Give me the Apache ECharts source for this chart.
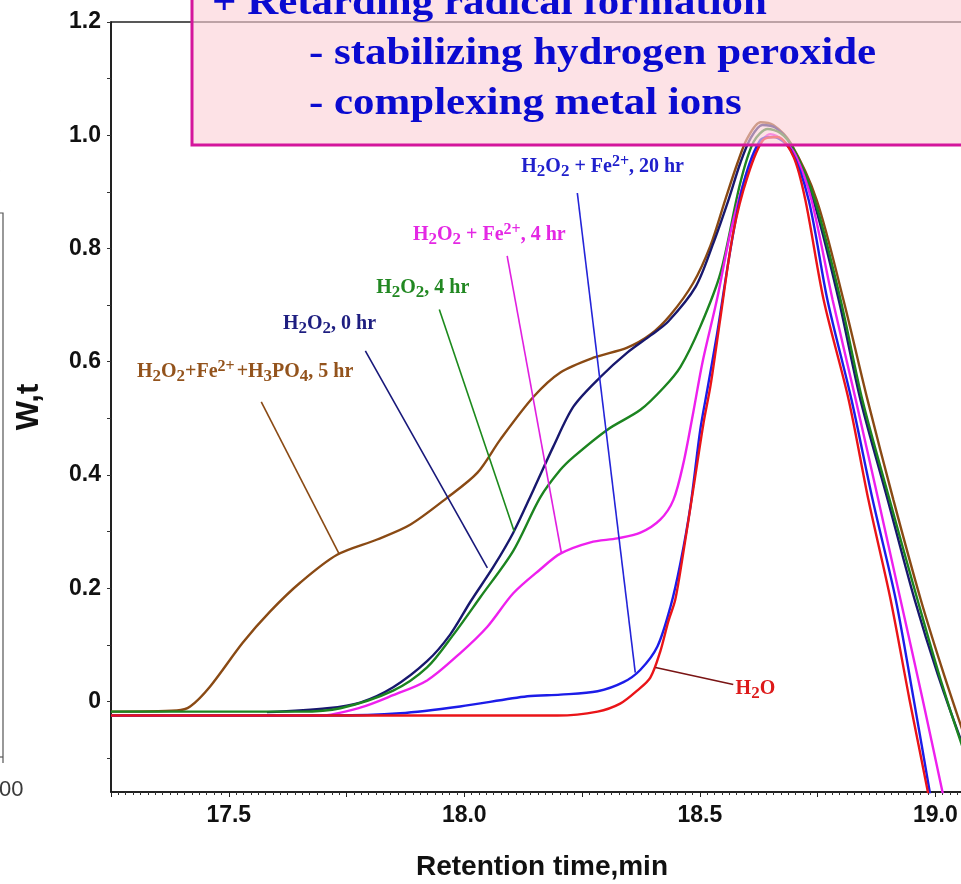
<!DOCTYPE html>
<html>
<head>
<meta charset="utf-8">
<script src="https://cdn.jsdelivr.net/npm/echarts@6/dist/echarts.min.js"></script>
<style>
  html, body { margin: 0; padding: 0; background: #ffffff; }
  #chart { width: 961px; height: 884px; }
</style>
</head>
<body>
<div id="chart"></div>
<script>
// GPC traces: normalized detector response W,t against retention time (min)
const xTicksLabelled = [17.5, 18.0, 18.5, 19.0];
const yTicksLabelled = [0, 0.2, 0.4, 0.6, 0.8, 1.0, 1.2];
const yTicksMinor = [-0.1, 0, 0.1, 0.2, 0.3, 0.4, 0.5, 0.6, 0.7, 0.8, 0.9, 1.0, 1.1, 1.2];

// H2O2 + Fe2+ + H3PO4, 5 hr
const phosphateCurve = [
  [17.25, -0.018], [17.390, -0.016], [17.418, -0.009], [17.460, 0.026], [17.530, 0.104],
  [17.588, 0.159], [17.652, 0.210], [17.730, 0.259], [17.815, 0.286], [17.885, 0.312],
  [17.964, 0.360], [18.028, 0.404], [18.076, 0.462], [18.147, 0.538], [18.204, 0.581],
  [18.274, 0.607], [18.346, 0.625], [18.395, 0.648], [18.438, 0.683], [18.486, 0.739],
  [18.523, 0.806], [18.554, 0.886], [18.580, 0.951], [18.601, 0.995], [18.629, 1.023],
  [18.656, 1.018], [18.693, 0.986], [18.748, 0.886], [18.805, 0.709], [18.856, 0.533],
  [18.911, 0.356], [18.969, 0.180], [19.015, 0.056], [19.064, -0.067], [19.09, -0.13]
];

// H2O2, 0 hr
const peroxide0Curve = [
  [17.581, -0.019], [17.709, -0.012], [17.779, -0.002], [17.849, 0.025], [17.921, 0.071],
  [17.970, 0.118], [18.013, 0.176], [18.062, 0.238], [18.104, 0.298], [18.147, 0.374],
  [18.189, 0.450], [18.232, 0.521], [18.289, 0.573], [18.346, 0.616], [18.395, 0.646],
  [18.433, 0.671], [18.491, 0.732], [18.529, 0.810], [18.561, 0.886], [18.586, 0.951],
  [18.608, 0.995], [18.633, 1.018], [18.661, 1.013], [18.693, 0.983], [18.741, 0.886],
  [18.795, 0.709], [18.841, 0.533], [18.899, 0.356], [18.956, 0.180], [19.005, 0.048],
  [19.058, -0.076], [19.09, -0.14]
];

// H2O2, 4 hr
const peroxide4Curve = [
  [17.25, -0.018], [17.652, -0.018], [17.737, -0.012], [17.849, 0.019], [17.921, 0.060],
  [17.977, 0.118], [18.034, 0.184], [18.104, 0.266], [18.161, 0.360], [18.204, 0.409],
  [18.232, 0.432], [18.304, 0.480], [18.374, 0.515], [18.423, 0.554], [18.459, 0.591],
  [18.501, 0.662], [18.544, 0.757], [18.586, 0.916], [18.614, 0.988], [18.644, 1.011],
  [18.671, 1.004], [18.697, 0.979], [18.744, 0.886], [18.799, 0.709], [18.845, 0.533],
  [18.903, 0.356], [18.962, 0.180], [19.011, 0.039], [19.058, -0.081], [19.09, -0.15]
];

// H2O2 + Fe2+, 4 hr
const iron4Curve = [
  [17.25, -0.025], [17.694, -0.025], [17.779, -0.011], [17.849, 0.011], [17.921, 0.037],
  [17.991, 0.085], [18.049, 0.132], [18.104, 0.191], [18.161, 0.233], [18.204, 0.261],
  [18.268, 0.281], [18.325, 0.288], [18.374, 0.298], [18.416, 0.321], [18.444, 0.356],
  [18.465, 0.420], [18.486, 0.510], [18.506, 0.600], [18.537, 0.712], [18.565, 0.828],
  [18.593, 0.916], [18.622, 0.979], [18.650, 1.002], [18.678, 0.990], [18.703, 0.965],
  [18.737, 0.886], [18.782, 0.709], [18.831, 0.533], [18.879, 0.356], [18.926, 0.180],
  [18.973, 0.004], [19.015, -0.159], [19.026, -0.199]
];

// H2O2 + Fe2+, 20 hr
const iron20Curve = [
  [17.25, -0.025], [17.722, -0.025], [17.864, -0.021], [17.991, -0.009], [18.134, 0.009],
  [18.204, 0.012], [18.283, 0.018], [18.338, 0.034], [18.374, 0.056], [18.410, 0.097],
  [18.438, 0.168], [18.459, 0.245], [18.480, 0.344], [18.501, 0.480], [18.516, 0.551],
  [18.537, 0.651], [18.565, 0.798], [18.593, 0.916], [18.629, 0.992], [18.656, 0.997],
  [18.693, 0.974], [18.731, 0.886], [18.771, 0.709], [18.822, 0.533], [18.867, 0.356],
  [18.916, 0.180], [18.954, 0.004], [18.988, -0.159], [18.996, -0.199]
];

// H2O reference
const waterCurve = [
  [17.25, -0.025], [18.198, -0.025], [18.283, -0.018], [18.331, -0.004], [18.367, 0.019],
  [18.395, 0.042], [18.416, 0.088], [18.433, 0.141], [18.448, 0.180], [18.465, 0.263],
  [18.486, 0.374], [18.508, 0.492], [18.523, 0.559], [18.544, 0.679], [18.571, 0.828],
  [18.601, 0.926], [18.635, 0.992], [18.665, 0.997], [18.699, 0.962], [18.724, 0.886],
  [18.763, 0.709], [18.816, 0.533], [18.858, 0.356], [18.905, 0.180], [18.945, 0.004],
  [18.984, -0.159], [18.992, -0.199]
];

// Callout text, its anchor (left edge, vertical centre) and leader line, in data units
const curveNotes = [
  { text: 'H{sb|2}O{sb|2}+Fe{sp|2+}{gap| }+H{sb|3}PO{sb|4}, 5 hr', at: [17.305, 0.582], leader: [[17.569, 0.529], [17.734, 0.261]] },
  { text: 'H{sb|2}O{sb|2}, 0 hr', at: [17.615, 0.667], leader: [[17.790, 0.619], [18.049, 0.236]] },
  { text: 'H{sb|2}O{sb|2}, 4 hr', at: [17.813, 0.731], leader: [[17.947, 0.692], [18.106, 0.300]] },
  { text: 'H{sb|2}O{sb|2} + Fe{sp|2+}, 4 hr', at: [17.891, 0.824], leader: [[18.091, 0.787], [18.206, 0.263]] },
  { text: 'H{sb|2}O{sb|2} + Fe{sp|2+}, 20 hr', at: [18.121, 0.944], leader: [[18.240, 0.898], [18.363, 0.051]] },
  { text: 'H{sb|2}O', at: [18.576, 0.023], leader: [[18.406, 0.060], [18.571, 0.030]] }
];

const curves = [
  { name: 'H2O2+Fe2++H3PO4, 5 hr', data: phosphateCurve, color: '#8a4a14', ink: '#93531c', leaderInk: '#8a4a14' },
  { name: 'H2O2, 0 hr', data: peroxide0Curve, color: '#18186e', ink: '#1e1e80', leaderInk: '#18187a' },
  { name: 'H2O2, 4 hr', data: peroxide4Curve, color: '#1c8420', ink: '#228822', leaderInk: '#1c8a1c' },
  { name: 'H2O2 + Fe2+, 4 hr', data: iron4Curve, color: '#ee20ee', ink: '#e428e4', leaderInk: '#e020e0' },
  { name: 'H2O2 + Fe2+, 20 hr', data: iron20Curve, color: '#1c1ce8', ink: '#2020cc', leaderInk: '#2424d8' },
  { name: 'H2O', data: waterCurve, color: '#ea1418', ink: '#dd1a1a', leaderInk: '#7a1414' }
];

const serif = "'Liberation Serif', 'Times New Roman', 'DejaVu Serif', serif";
const sans = "'Liberation Sans', Arial, 'DejaVu Sans', sans-serif";

function noteRich(color) {
  return {
    sb: { fontFamily: serif, fontWeight: 'bold', fontSize: 17, color: color, verticalAlign: 'bottom', lineHeight: 17 },
    sp: { fontFamily: serif, fontWeight: 'bold', fontSize: 16, color: color, verticalAlign: 'top', lineHeight: 16 },
    gap: { fontFamily: serif, fontSize: 8, color: color }
  };
}

const series = curves.map(function (c, i) {
  const note = curveNotes[i];
  return {
    type: 'line',
    name: c.name,
    data: c.data,
    showSymbol: false,
    smooth: 0.3,
    clip: true,
    animation: false,
    lineStyle: { color: c.color, width: 2.4 },
    itemStyle: { color: c.color },
    markLine: {
      silent: true,
      animation: false,
      symbol: ['none', 'none'],
      label: { show: false },
      lineStyle: { color: c.leaderInk, width: 1.6, type: 'solid' },
      data: [[{ coord: note.leader[0] }, { coord: note.leader[1] }]]
    },
    markPoint: {
      silent: true,
      animation: false,
      symbol: 'circle',
      symbolSize: 0,
      data: [{
        coord: note.at,
        label: {
          show: true,
          position: 'right',
          distance: 0,
          formatter: function () { return note.text; },
          fontFamily: serif,
          fontWeight: 'bold',
          fontSize: 20,
          lineHeight: 27,
          color: c.ink,
          rich: noteRich(c.ink)
        }
      }]
    }
  };
});

const chart = echarts.init(document.getElementById('chart'), null, { renderer: 'canvas' });

function boxLine(text, x, y) {
  return {
    type: 'text', z: 101, x: x, y: y, scaleX: 1.16, scaleY: 1,
    style: { text: text, fontFamily: serif, fontWeight: 'bold', fontSize: 37, fill: '#0a0ad0', verticalAlign: 'middle' }
  };
}

chart.setOption({
  backgroundColor: '#ffffff',
  animation: false,
  grid: {
    left: 111, top: 22, right: -12, bottom: 92,
    outerBoundsMode: 'none',
    containLabel: false,
    show: true, borderColor: '#222222', borderWidth: 1.5, backgroundColor: 'transparent'
  },
  xAxis: {
    type: 'value',
    min: 17.25,
    max: 19.08,
    interval: 0.25,
    name: 'Retention time,min',
    nameLocation: 'middle',
    nameGap: 61,
    nameTextStyle: { fontFamily: sans, fontWeight: 'bold', fontSize: 28, color: '#111111' },
    axisLine: { show: true, onZero: false, lineStyle: { color: '#111111', width: 1.5 } },
    axisTick: { show: true, inside: false, length: 5, lineStyle: { color: '#222222', width: 1 } },
    minorTick: { show: true, splitNumber: 16, length: 3, lineStyle: { color: '#333333', width: 1 } },
    axisLabel: {
      customValues: xTicksLabelled,
      margin: 12,
      fontFamily: sans, fontWeight: 'bold', fontSize: 23, color: '#111111',
      formatter: function (v) { return v.toFixed(1); }
    },
    splitLine: { show: false }
  },
  yAxis: {
    type: 'value',
    min: -0.16,
    max: 1.2,
    name: 'W,t',
    nameLocation: 'middle',
    nameRotate: 90,
    nameGap: 66,
    nameTextStyle: { fontFamily: sans, fontWeight: 'bold', fontSize: 31, color: '#111111' },
    axisLine: { show: true, onZero: false, lineStyle: { color: '#111111', width: 1.5 } },
    axisTick: { show: true, customValues: yTicksMinor, length: 4, lineStyle: { color: '#333333', width: 1 } },
    axisLabel: {
      customValues: yTicksLabelled,
      margin: 10,
      fontFamily: sans, fontWeight: 'bold', fontSize: 23, color: '#111111',
      formatter: function (v) { return v === 0 ? '0' : v.toFixed(1); }
    },
    splitLine: { show: false }
  },
  series: series,
  graphic: [
    // edge of the neighbouring panel on the slide
    { type: 'polyline', z: 50, shape: { points: [[0, 213], [3, 213], [3, 763]] }, style: { stroke: '#555555', lineWidth: 1.2, fill: null } },
    { type: 'line', z: 50, shape: { x1: 0, y1: 757, x2: 3, y2: 757 }, style: { stroke: '#555555', lineWidth: 1.2 } },
    { type: 'text', z: 50, left: -1, top: 779, style: { text: '00', fontFamily: sans, fontSize: 22, fill: '#3a3a3a' } },
    { type: 'text', z: 50, left: -7, top: 158, style: { text: ')', fontFamily: sans, fontSize: 26, fill: '#222222' } },
    // translucent note box across the top
    {
      type: 'rect', z: 100,
      shape: { x: 192, y: -20, width: 800, height: 165 },
      style: { fill: 'rgba(252, 208, 214, 0.62)', stroke: '#d4169c', lineWidth: 3 }
    },
    boxLine('+ Retarding radical formation', 212, 4),
    boxLine('- stabilizing hydrogen peroxide', 309, 54),
    boxLine('- complexing metal ions', 309, 104)
  ]
});
</script>
</body>
</html>
